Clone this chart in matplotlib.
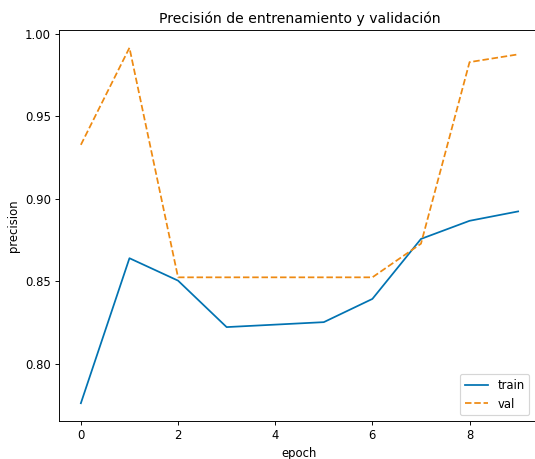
import matplotlib
matplotlib.use("Agg")
import matplotlib.pyplot as plt

# datos
epochs = list(range(10))
train = [0.776, 0.864, 0.8504, 0.8222, 0.8237, 0.8252, 0.8393, 0.8757, 0.8867, 0.8924]
val = [0.9328, 0.9917, 0.8524, 0.8524, 0.8524, 0.8524, 0.8524, 0.8728, 0.983, 0.9877]

W, H = 535, 459
DPI = 84
fig = plt.figure(figsize=(W / DPI, H / DPI), dpi=DPI)
ax = fig.add_axes([59 / W, 1 - 421 / H, (540 - 59) / W, (421 - 30) / H])

ax.plot(epochs, train, color="#0173b2", label="train")
ax.plot(epochs, val, color="#ee8a12", linestyle="--", label="val")

ax.set_title("Precisión de entrenamiento y validación")
ax.set_xlabel("epoch")
ax.set_ylabel("precision")
ax.legend(loc="lower right", bbox_to_anchor=(0.99, 0.0))
# el borde derecho queda fuera de la imagen en el original
ax.spines["right"].set_visible(False)

fig.savefig("out.png", dpi=DPI)
